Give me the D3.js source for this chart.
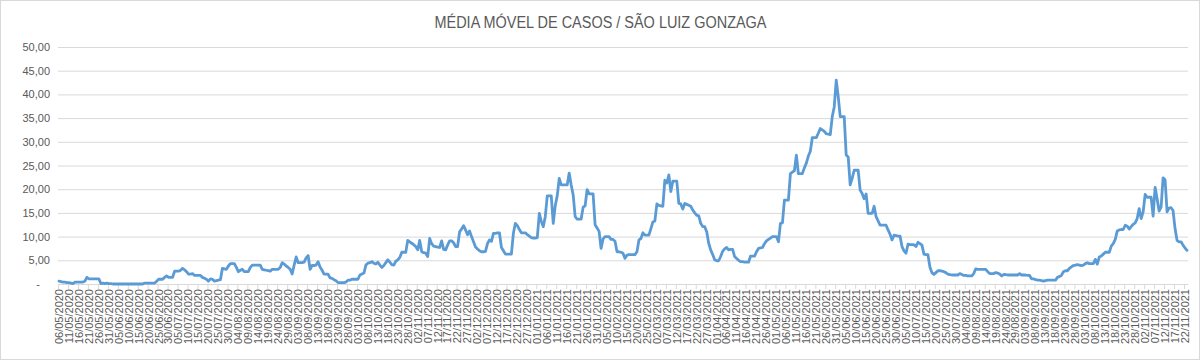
<!DOCTYPE html>
<html>
<head>
  <meta charset="utf-8">
  <title>Média móvel de casos</title>
  <style>
    body { margin: 0; background: #fff; }
    #chart { width: 1201px; height: 361px; }
    text { font-family: "Liberation Sans", Arial, sans-serif; fill: #595959; }
  </style>
</head>
<body>
  <div id="chart"></div>

  <script src="https://d3js.org/d3.v7.min.js"></script>
  <script>
    // Chart data
    const chartTitle = "MÉDIA MÓVEL DE CASOS / SÃO LUIZ GONZAGA";
    const firstDay = "06/05/2020";   // first category, one value per day after that
    const labelEvery = 5;             // axis shows every 5th date
    const yTicks = [0, 5, 10, 15, 20, 25, 30, 35, 40, 45, 50];

    // moving average, one value per day
    const mediaMovel = [
      0.6,0.5,0.4,0.4,0.3,0.3,0.2,0.1,0.4,0.4,
      0.4,0.4,0.4,0.6,1.4,1.1,1.1,1.1,1.1,1.1,
      1.1,0.1,0.2,0.1,0.2,0.1,0.1,0.0,0.0,0.0,
      0.0,0.0,0.0,0.0,0.0,0.0,0.0,0.0,0.0,0.0,
      0.0,0.0,0.0,0.2,0.2,0.2,0.2,0.2,0.2,0.6,
      1.0,1.0,1.0,1.4,1.7,1.4,1.4,1.4,2.7,2.7,
      2.7,2.9,3.3,3.0,2.6,2.1,2.1,2.2,1.8,1.8,
      1.8,1.8,1.4,1.2,1.0,0.6,1.1,1.0,0.6,0.7,
      0.8,0.9,3.3,3.2,3.1,3.8,4.3,4.3,4.3,3.5,
      2.6,2.9,3.1,2.6,2.6,2.6,3.5,4.0,4.0,4.0,
      4.0,4.0,3.1,3.0,2.9,2.8,2.7,3.1,3.1,3.1,
      3.1,3.5,4.5,4.2,3.8,3.5,3.1,2.1,4.0,5.7,
      4.5,4.5,4.5,4.6,5.5,6.0,3.1,3.9,3.9,4.0,
      4.7,3.6,2.9,2.1,2.1,2.1,1.3,1.2,0.9,0.7,
      0.3,0.3,0.3,0.3,0.4,0.8,0.8,1.0,1.0,1.0,
      1.0,1.9,2.1,2.3,4.0,4.4,4.5,4.7,4.4,4.2,
      4.6,4.0,3.5,3.9,4.5,5.1,4.6,4.1,4.0,4.8,
      5.1,5.6,6.7,6.7,6.7,9.2,8.9,8.6,8.3,7.9,
      7.2,9.2,6.8,6.6,6.5,5.8,9.6,8.5,8.0,7.9,
      7.8,7.7,9.1,7.3,7.2,8.2,9.1,9.1,8.7,7.9,
      7.9,11.0,11.6,12.3,11.4,10.4,11.2,10.0,8.9,7.8,
      7.4,7.0,6.8,6.8,6.9,8.5,9.3,9.0,10.7,10.7,
      10.8,10.8,7.7,7.0,6.3,6.3,6.3,6.3,10.7,12.8,
      12.3,11.5,10.8,10.8,10.8,10.4,10.1,9.8,9.7,9.7,
      9.8,14.9,13.2,12.1,14.2,18.6,18.6,18.6,12.8,16.5,
      18.6,22.3,20.9,20.9,20.9,20.9,23.4,20.9,18.8,14.2,
      13.7,13.7,13.7,16.2,16.5,19.9,19.0,19.0,19.0,12.5,
      11.8,11.1,7.5,9.5,10.0,10.0,10.0,9.4,9.4,9.0,
      6.8,6.8,6.7,6.5,5.4,6.1,6.2,6.2,6.2,6.2,
      6.8,9.3,9.6,10.8,10.3,10.3,10.3,11.7,13.1,13.3,
      16.9,16.6,16.5,16.4,21.9,21.3,23.0,19.5,21.7,21.7,
      21.7,17.0,16.9,15.8,17.0,16.8,16.6,16.4,15.6,15.0,
      14.5,14.4,12.8,12.1,12.1,11.0,8.6,7.2,6.2,5.1,
      4.9,4.9,5.8,6.9,7.4,7.7,7.2,7.3,7.3,5.8,
      5.4,5.0,4.7,4.7,4.6,4.6,4.6,5.9,5.9,5.9,
      6.8,7.5,7.6,7.7,8.5,9.1,9.4,9.7,10.0,10.0,
      10.0,8.9,12.8,12.9,17.7,17.7,17.7,23.3,23.6,23.9,
      27.2,23.3,23.3,23.3,24.5,25.5,27.0,28.0,30.9,30.9,
      30.9,31.8,32.8,32.5,32.2,31.7,31.6,31.5,35.3,37.4,
      43.0,39.5,35.3,35.3,35.3,27.2,26.8,20.9,22.3,24.0,
      24.0,24.0,19.8,19.1,18.0,19.0,14.9,14.9,14.9,16.4,
      14.2,13.3,12.4,12.4,12.4,12.4,11.4,10.5,9.3,10.3,
      10.2,10.1,10.1,7.9,7.0,6.5,8.4,8.3,8.3,8.3,
      7.9,8.8,8.5,8.2,6.3,6.2,6.2,3.6,2.4,2.0,
      2.4,2.8,2.8,2.7,2.6,2.4,2.1,2.0,1.9,1.9,
      1.9,1.9,2.2,2.0,1.8,1.8,1.7,1.7,1.7,2.2,
      3.2,3.1,3.1,3.1,3.1,3.1,2.6,2.2,2.2,2.2,
      2.4,2.3,2.1,1.7,2.0,2.0,1.9,1.9,1.9,1.9,
      1.9,1.9,2.2,1.9,1.9,1.9,1.8,1.8,1.1,1.1,
      0.9,0.8,0.8,0.7,0.6,0.7,0.8,0.8,0.8,0.8,
      0.8,1.4,1.6,1.8,2.6,2.8,2.8,3.3,3.6,3.9,
      4.0,4.1,4.0,3.9,4.0,4.3,4.5,4.3,4.3,4.3,
      5.2,4.2,5.7,5.9,6.3,6.7,6.7,6.7,8.0,8.5,
      9.4,11.2,11.4,11.5,11.5,12.4,12.2,11.6,12.1,12.6,
      12.9,13.8,15.9,13.8,15.2,18.9,18.3,18.3,18.3,14.3,
      20.4,18.0,15.4,16.2,22.4,22.0,15.2,16.0,16.1,15.5,
      11.7,9.2,8.9,8.9,8.2,7.6,7.1
    ];

    // Build the day categories
    const parseDay = d3.timeParse("%d/%m/%Y");
    const fmtDay = d3.timeFormat("%d/%m/%Y");
    const start = parseDay(firstDay);
    const days = mediaMovel.map((v, i) => d3.timeDay.offset(start, i));
    const data = days.map((d, i) => ({ day: d, value: mediaMovel[i] }));

    // Dimensions
    const width = 1201, height = 361;
    const margin = { top: 47, right: 13, bottom: 77, left: 58 };
    const plotW = width - margin.left - margin.right;
    const plotH = height - margin.top - margin.bottom;

    const svg = d3.select("#chart")
      .append("svg")
      .attr("width", width)
      .attr("height", height);

    // outer frame
    svg.append("rect")
      .attr("x", 0.5).attr("y", 0.5)
      .attr("width", width - 2).attr("height", height - 2)
      .attr("fill", "#fff")
      .attr("stroke", "#d9d9d9");

    // title (Calibri in the original is narrower, so squeeze it to the same width)
    svg.append("text")
      .attr("x", width / 2)
      .attr("y", 28)
      .attr("text-anchor", "middle")
      .attr("textLength", 332)
      .attr("lengthAdjust", "spacingAndGlyphs")
      .style("font-size", "16px")
      .text(chartTitle);

    const g = svg.append("g")
      .attr("transform", "translate(" + margin.left + "," + margin.top + ")");

    // Scales
    const x = d3.scaleBand()
      .domain(data.map(d => d.day))
      .range([0, plotW]);

    const y = d3.scaleLinear()
      .domain([0, 50])
      .range([plotH, 0]);

    // Grid + y labels
    const yAxis = g.append("g")
      .call(d3.axisLeft(y)
        .tickValues(yTicks)
        .tickSize(-plotW)
        .tickPadding(8)
        .tickFormat(v => v === 0 ? "-" : d3.format(".2f")(v).replace(".", ",")));
    yAxis.select(".domain").remove();
    yAxis.selectAll(".tick line").attr("stroke", "#d9d9d9");
    yAxis.selectAll(".tick text")
      .style("font-size", "11px")
      .attr("fill", "#595959")
      .attr("x", -8);
    yAxis.selectAll(".tick")
      .filter(v => v === 0)
      .select("text").attr("x", -18);

    // X axis: line, ticks every 5 days, rotated labels
    const labelDays = days.filter((d, i) => i % labelEvery === 0);
    const xAxis = g.append("g")
      .attr("transform", "translate(0," + plotH + ")")
      .call(d3.axisBottom(x)
        .tickValues(labelDays)
        .tickSize(0)
        .tickPadding(0)
        .tickFormat(fmtDay));
    xAxis.select(".domain").attr("stroke", "#d9d9d9");
    xAxis.selectAll(".tick text")
      .style("font-size", "11px")
      .attr("fill", "#595959")
      .attr("text-anchor", "end")
      .attr("transform", "rotate(-90)")
      .attr("x", -5)
      .attr("y", 0)
      .attr("dy", "0.35em");

    // small tick marks at band edges
    g.append("g").selectAll("line")
      .data(labelDays)
      .enter().append("line")
      .attr("x1", d => x(d) + 0.5)
      .attr("x2", d => x(d) + 0.5)
      .attr("y1", plotH)
      .attr("y2", plotH + 5)
      .attr("stroke", "#d9d9d9");

    // The line
    g.append("path")
      .datum(data)
      .attr("fill", "none")
      .attr("stroke", "#5b9bd5")
      .attr("stroke-width", 2.8)
      .attr("stroke-linejoin", "round")
      .attr("stroke-linecap", "round")
      .attr("d", d3.line()
        .x(d => x(d.day) + x.bandwidth() / 2)
        .y(d => y(d.value)));
  </script>
</body>
</html>
